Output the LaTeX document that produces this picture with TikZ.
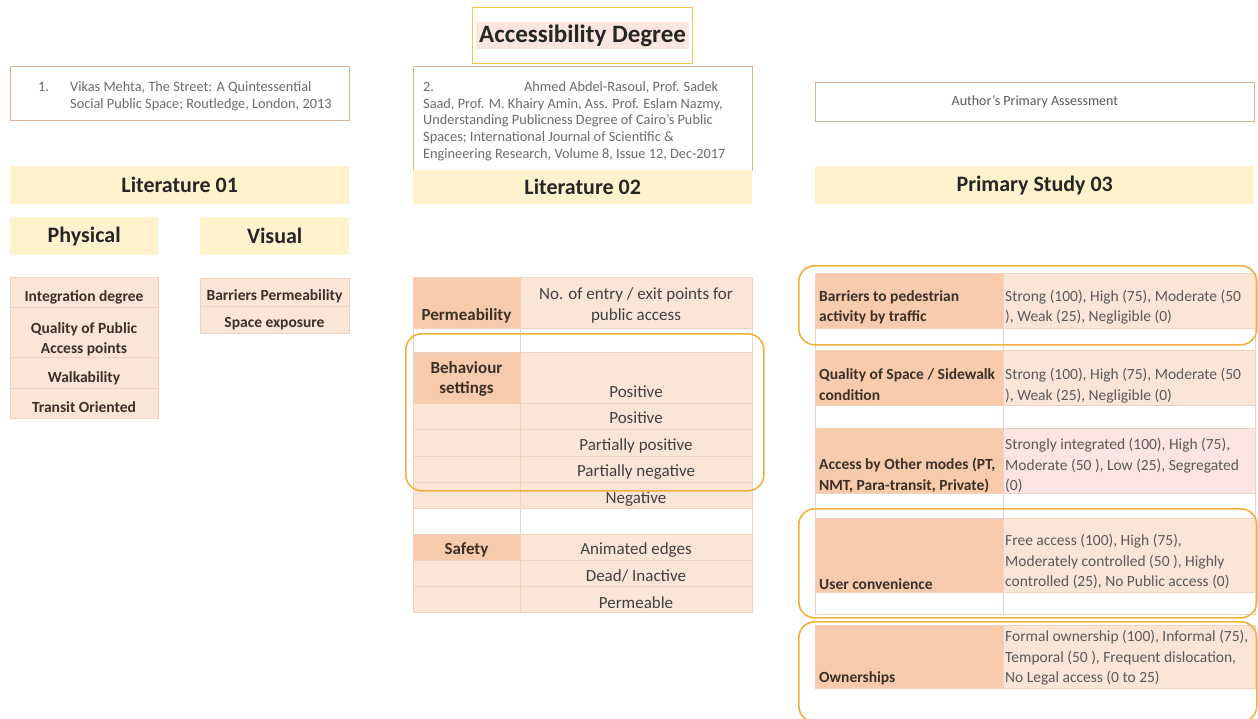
\documentclass[tikz,border=0pt]{standalone}
\usepackage{fontspec}
\setmainfont{Carlito}
\usepackage{tikz}
\usetikzlibrary{positioning}

\definecolor{bandyellow}{HTML}{FFF2CC}
\definecolor{cellorange}{HTML}{F8CBAD}
\definecolor{cellpeach}{HTML}{FBE5D6}
\definecolor{cellpink}{HTML}{FCE4E2}
\definecolor{cellline}{HTML}{F1D2BC}
\definecolor{ringgold}{HTML}{F0B23E}
\definecolor{titlegold}{HTML}{F2C94C}
\definecolor{titlepink}{HTML}{FCE6DF}
\definecolor{refline}{HTML}{D8B597}
\definecolor{headtxt}{HTML}{262626}
\definecolor{keytxt}{HTML}{3A3027}
\definecolor{bodytxt}{HTML}{404040}
\definecolor{valtxt}{HTML}{595959}
\definecolor{reftxt}{HTML}{6B6B6B}

\newcommand{\lrows}[1]{\begin{tabular}[t]{@{}l@{}}#1\end{tabular}}
\newcommand{\crows}[1]{\begin{tabular}[t]{@{}c@{}}#1\end{tabular}}

\tikzset{
  cell/.style={anchor=north west, inner sep=0pt, outer sep=0pt, draw=cellline, line width=0.5pt},
  dark/.style={cell, fill=cellorange},
  light/.style={cell, fill=cellpeach},
  pinkcell/.style={cell, fill=cellpink},
  blank/.style={cell, fill=white},
  band/.style={anchor=north west, inner sep=0pt, fill=bandyellow, text=headtxt, font=\fontsize{22}{26}\selectfont\bfseries},
  refbox/.style={anchor=north west, inner sep=0pt, draw=refline, line width=0.8pt, fill=white},
  ring/.style={anchor=north west, inner sep=0pt, draw=ringgold, line width=1.6pt, rounded corners=16pt},
  lefttxt/.style={anchor=base west, inner sep=0pt, yshift=-2pt},
  midtxt/.style={anchor=base, inner sep=0pt, yshift=-2pt},
  reffont/.style={font=\fontsize{14.3}{16.75}\selectfont, text=reftxt},
  smallkey/.style={font=\fontsize{15.5}{20.5}\selectfont\bfseries, text=keytxt},
  key/.style={font=\fontsize{17}{20.5}\selectfont\bfseries, text=keytxt},
  entry/.style={font=\fontsize{17}{20.5}\selectfont, text=bodytxt},
  val/.style={font=\fontsize{15.5}{20.5}\selectfont, text=valtxt}
}

\begin{document}
\begin{tikzpicture}[x=1pt,y=-1pt]
  \useasboundingbox (0,0) rectangle (1258,719);
  \fill[white] (0,0) rectangle (1258,719);

  % title
  \node[draw=titlegold, line width=1.2pt, fill=white, minimum width=220pt, minimum height=56pt,
        inner sep=0pt, anchor=north west, font=\fontsize{25}{30}\selectfont\bfseries, text=headtxt]
        (title) at (472,7) {\setlength{\fboxsep}{3pt}\colorbox{titlepink}{Accessibility Degree}};

  % literature 01
  \begin{scope}
    \node[refbox, minimum width=339pt, minimum height=54pt] (refA) at (10,66) {};
    \node[lefttxt, reffont] (refAtxt) at (38,89.5) {\lrows{\makebox[32pt][l]{1.}Vikas Mehta, The Street: A Quintessential\\\makebox[32pt][l]{}Social Public Space; Routledge, London, 2013}};

    \node[band, minimum width=339pt, minimum height=38pt] (lit1) at (10,166) {Literature 01};
    \node[band, minimum width=148pt, minimum height=38pt] (phys) at (10,217) {Physical};
    \node[band, minimum width=149pt, minimum height=38pt] (vis) at (200,217) {Visual};

    \node[light, minimum width=148pt, minimum height=30pt] (integ) at (10,277) {};
    \node[light, minimum width=148pt, minimum height=50pt] (qual) at (10,307) {};
    \node[light, minimum width=148pt, minimum height=31pt] (walk) at (10,357) {};
    \node[light, minimum width=148pt, minimum height=30pt] (trans) at (10,388) {};
    \node[midtxt, smallkey] (integtxt) at (84,299.5) {Integration degree};
    \node[midtxt, smallkey] (qualtxt) at (84,331.5) {\crows{Quality of Public\\Access points}};
    \node[midtxt, smallkey] (walktxt) at (84,380.5) {Walkability};
    \node[midtxt, smallkey] (transtxt) at (84,410.5) {Transit Oriented};

    \node[light, minimum width=149pt, minimum height=28pt] (barr) at (200,278) {};
    \node[light, minimum width=149pt, minimum height=27pt] (expo) at (200,306) {};
    \node[midtxt, smallkey] (barrtxt) at (274.5,298.5) {Barriers Permeability};
    \node[midtxt, smallkey] (expotxt) at (274.5,325.5) {Space exposure};
  \end{scope}

  % literature 02
  \begin{scope}
    \node[refbox, minimum width=339pt, minimum height=104pt] (refB) at (413,66) {};
    \node[lefttxt, reffont] (refBtxt) at (423,89.5) {\lrows{\makebox[101pt][l]{2.}Ahmed Abdel-Rasoul, Prof. Sadek\\Saad, Prof. M. Khairy Amin, Ass. Prof. Eslam Nazmy,\\Understanding Publicness Degree of Cairo's Public\\Spaces; International Journal of Scientific \&\\Engineering Research, Volume 8, Issue 12, Dec-2017}};

    \node[band, minimum width=339pt, minimum height=34pt] (lit2) at (413,170) {Literature 02};

    \node[dark, minimum width=107pt, minimum height=51pt] (permL) at (413,277) {};
    \node[light, minimum width=232pt, minimum height=51pt] (permR) at (520,277) {};
    \node[blank, minimum width=107pt, minimum height=24pt] (gapL) at (413,328) {};
    \node[blank, minimum width=232pt, minimum height=24pt] (gapR) at (520,328) {};
    \node[dark, minimum width=107pt, minimum height=51pt] (behL) at (413,352) {};
    \node[light, minimum width=232pt, minimum height=51pt] (behR) at (520,352) {};
    \node[light, minimum width=107pt, minimum height=26pt] (posL) at (413,403) {};
    \node[light, minimum width=232pt, minimum height=26pt] (posR) at (520,403) {};
    \node[light, minimum width=107pt, minimum height=27pt] (pposL) at (413,429) {};
    \node[light, minimum width=232pt, minimum height=27pt] (pposR) at (520,429) {};
    \node[light, minimum width=107pt, minimum height=26pt] (pnegL) at (413,456) {};
    \node[light, minimum width=232pt, minimum height=26pt] (pnegR) at (520,456) {};
    \node[light, minimum width=107pt, minimum height=26pt] (negL) at (413,482) {};
    \node[light, minimum width=232pt, minimum height=26pt] (negR) at (520,482) {};
    \node[blank, minimum width=107pt, minimum height=26pt] (gap2L) at (413,508) {};
    \node[blank, minimum width=232pt, minimum height=26pt] (gap2R) at (520,508) {};
    \node[dark, minimum width=107pt, minimum height=26pt] (safeL) at (413,534) {};
    \node[light, minimum width=232pt, minimum height=26pt] (safeR) at (520,534) {};
    \node[light, minimum width=107pt, minimum height=26pt] (deadL) at (413,560) {};
    \node[light, minimum width=232pt, minimum height=26pt] (deadR) at (520,560) {};
    \node[light, minimum width=107pt, minimum height=26pt] (pmbL) at (413,586) {};
    \node[light, minimum width=232pt, minimum height=26pt] (pmbR) at (520,586) {};

    \node[midtxt, key] (permtxt) at (466.5,318) {Permeability};
    \node[midtxt, entry] (entrytxt) at (636,298) {\crows{No. of entry / exit points for\\public access}};
    \node[midtxt, key] (behtxt) at (466.5,371) {\crows{Behaviour\\settings}};
    \node[midtxt, entry] (pos1txt) at (636,395) {Positive};
    \node[midtxt, entry] (pos2txt) at (636,421) {Positive};
    \node[midtxt, entry] (ppostxt) at (636,448) {Partially positive};
    \node[midtxt, entry] (pnegtxt) at (636,474) {Partially negative};
    \node[midtxt, entry] (negtxt) at (636,501) {Negative};
    \node[midtxt, key] (safetxt) at (466.5,552) {Safety};
    \node[midtxt, entry] (animtxt) at (636,552) {Animated edges};
    \node[midtxt, entry] (deadtxt) at (636,579) {Dead/ Inactive};
    \node[midtxt, entry] (pmbtxt) at (636,606) {Permeable};

    \node[ring, minimum width=358pt, minimum height=157pt] (behring) at (405,333) {};
  \end{scope}

  % primary study 03
  \begin{scope}
    \node[refbox, minimum width=439pt, minimum height=39pt, font=\fontsize{14}{17}\selectfont, text=valtxt] (refC) at (815,82) {Author's Primary Assessment};
    \node[band, minimum width=439pt, minimum height=38pt] (prim) at (815,166) {Primary Study 03};

    \node[dark, minimum width=188pt, minimum height=55pt] (trafL) at (815,273) {};
    \node[light, minimum width=252pt, minimum height=55pt] (trafR) at (1003,273) {};
    \node[blank, minimum width=188pt, minimum height=22pt] (w1L) at (815,328) {};
    \node[blank, minimum width=252pt, minimum height=22pt] (w1R) at (1003,328) {};
    \node[dark, minimum width=188pt, minimum height=55pt] (sideL) at (815,350) {};
    \node[light, minimum width=252pt, minimum height=55pt] (sideR) at (1003,350) {};
    \node[blank, minimum width=188pt, minimum height=23pt] (w2L) at (815,405) {};
    \node[blank, minimum width=252pt, minimum height=23pt] (w2R) at (1003,405) {};
    \node[dark, minimum width=188pt, minimum height=65pt] (modeL) at (815,428) {};
    \node[pinkcell, minimum width=252pt, minimum height=65pt] (modeR) at (1003,428) {};
    \node[blank, minimum width=188pt, minimum height=25pt] (w3L) at (815,493) {};
    \node[blank, minimum width=252pt, minimum height=25pt] (w3R) at (1003,493) {};
    \node[dark, minimum width=188pt, minimum height=74pt] (userL) at (815,518) {};
    \node[light, minimum width=252pt, minimum height=74pt] (userR) at (1003,518) {};
    \node[blank, minimum width=188pt, minimum height=22pt] (w4L) at (815,592) {};
    \node[blank, minimum width=252pt, minimum height=22pt] (w4R) at (1003,592) {};
    \node[dark, minimum width=188pt, minimum height=63pt] (ownL) at (815,625) {};
    \node[light, minimum width=252pt, minimum height=63pt] (ownR) at (1003,625) {};

    \node[lefttxt, smallkey] (traftxt) at (819,299.5) {\lrows{Barriers to pedestrian\\activity by traffic}};
    \node[lefttxt, val] (trafval) at (1005,299.5) {\lrows{Strong (100), High (75), Moderate (50\\), Weak (25), Negligible (0)}};
    \node[lefttxt, smallkey] (sidetxt) at (819,377.5) {\lrows{Quality of Space / Sidewalk\\condition}};
    \node[lefttxt, val] (sideval) at (1005,377.5) {\lrows{Strong (100), High (75), Moderate (50\\), Weak (25), Negligible (0)}};
    \node[lefttxt, smallkey] (modetxt) at (819,467.5) {\lrows{Access by Other modes (PT,\\NMT, Para-transit, Private)}};
    \node[lefttxt, val] (modeval) at (1005,447.5) {\lrows{Strongly integrated (100), High (75),\\Moderate (50 ), Low (25), Segregated\\(0)}};
    \node[lefttxt, smallkey] (usertxt) at (819,587) {User convenience};
    \node[lefttxt, val] (userval) at (1005,543.5) {\lrows{Free access (100), High (75),\\Moderately controlled (50 ), Highly\\controlled (25), No Public access (0)}};
    \node[lefttxt, smallkey] (owntxt) at (819,680) {Ownerships};
    \node[lefttxt, val] (ownval) at (1005,639.5) {\lrows{Formal ownership (100), Informal (75),\\Temporal (50 ), Frequent dislocation,\\No Legal access (0 to 25)}};

    \node[ring, minimum width=458pt, minimum height=79pt] (trafring) at (798,265) {};
    \node[ring, minimum width=458pt, minimum height=109pt] (userring) at (798,508) {};
    \node[ring, minimum width=458pt, minimum height=100pt] (ownring) at (798,621) {};
  \end{scope}
\end{tikzpicture}
\end{document}
